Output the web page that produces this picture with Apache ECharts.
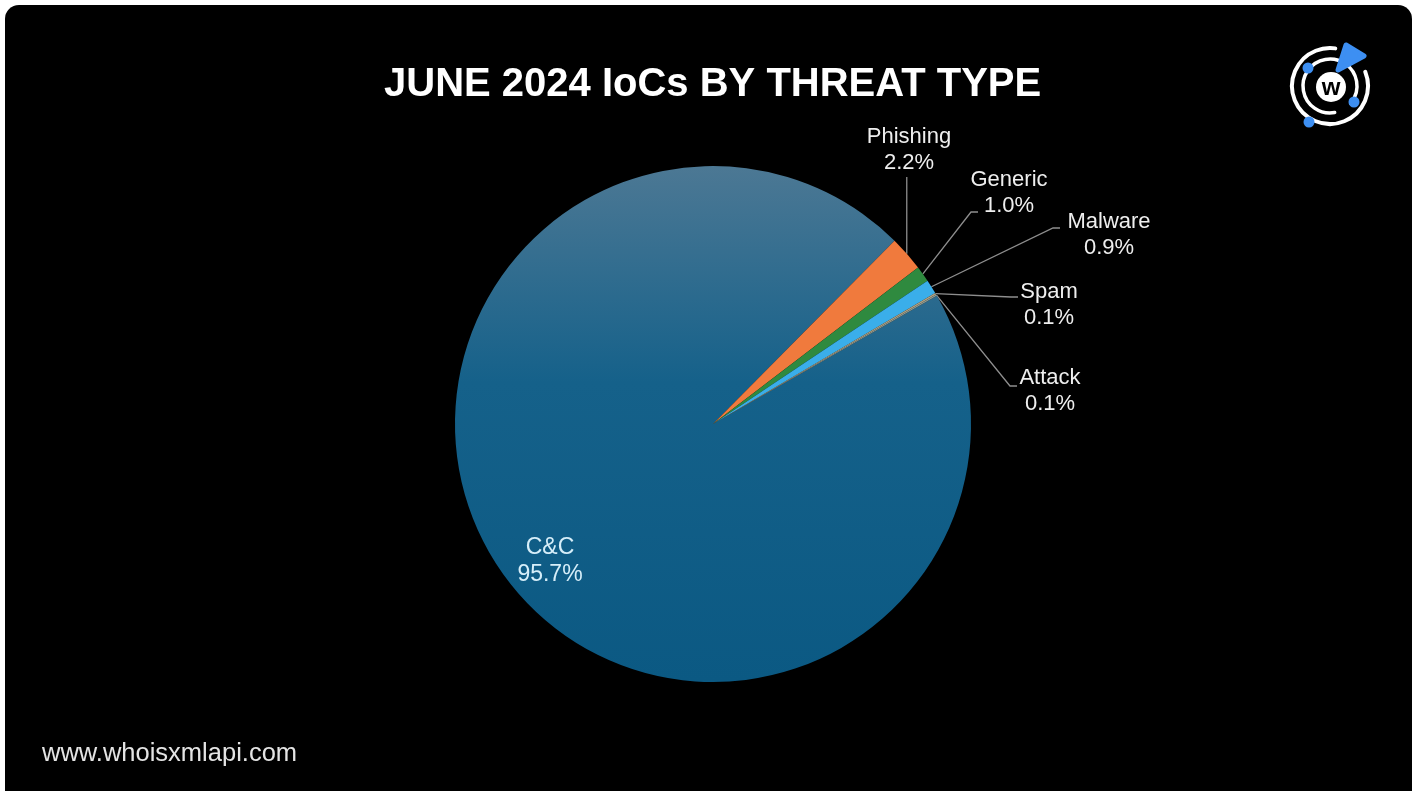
<!DOCTYPE html>
<html>
<head>
<meta charset="utf-8">
<title>June 2024 IoCs by Threat Type</title>
<script src="https://cdn.jsdelivr.net/npm/echarts@6/dist/echarts.min.js"></script>
<style>
  html, body { margin: 0; padding: 0; background: #ffffff; }
  #chart { width: 1417px; height: 791px; }
</style>
</head>
<body>
<div id="chart"></div>
<script>
// Share of indicators of compromise per threat type (percent)
const threatTypes = ['C&C', 'Phishing', 'Generic', 'Malware', 'Spam', 'Attack'];
const shares = [95.7, 2.2, 1.0, 0.9, 0.1, 0.1];
const sliceColors = [null, '#f07a3d', '#2f8a3f', '#3aaeea', '#b0a080', '#8a9a94'];

const FONT = '"Liberation Sans", Arial, Helvetica, sans-serif';
const PIE_CENTER = [713, 424];
const PIE_RADIUS = 258;

// Label block centres, relative to the pie centre
const labelSpots = {
  'C&C': [-163, 137],
  'Phishing': [196, -274],
  'Generic': [296, -231],
  'Malware': [396, -189],
  'Spam': [336, -119],
  'Attack': [337, -33]
};
// Where each leader line meets its label, relative to the label centre
const leaderEnds = {
  'Phishing': null,
  'Generic': [-31, 19],
  'Malware': [-49, -7],
  'Spam': [-31, -8],
  'Attack': [-33, -5]
};

const chart = echarts.init(document.getElementById('chart'), null, { renderer: 'canvas' });

const ccFill = {
  type: 'linear', x: 0, y: 0, x2: 0, y2: 1,
  colorStops: [
    { offset: 0, color: '#4c7894' },
    { offset: 0.42, color: '#15618a' },
    { offset: 1, color: '#0b5983' }
  ]
};

const pieData = threatTypes.map((name, i) => {
  const item = {
    name: name,
    value: shares[i],
    itemStyle: { color: i === 0 ? ccFill : sliceColors[i] }
  };
  if (i === 0) {
    item.label = { color: '#d6eef9', fontSize: 23, lineHeight: 27 };
    item.labelLine = { show: false };
  }
  return item;
});

// Logo: two broken rings, dots on them, a wedge and a "w" badge
const LX = 1330, LY = 86;
const deg = d => d * Math.PI / 180;
const logo = {
  type: 'group',
  children: [
    { type: 'arc', shape: { cx: LX, cy: LY, r: 38, startAngle: deg(-22), endAngle: deg(278), clockwise: true },
      style: { stroke: '#ffffff', lineWidth: 4, fill: null, lineCap: 'round' } },
    { type: 'arc', shape: { cx: LX, cy: LY, r: 27, startAngle: deg(80), endAngle: deg(400), clockwise: true },
      style: { stroke: '#ffffff', lineWidth: 3.5, fill: null, lineCap: 'round' } },
    { type: 'polygon', shape: { points: [[LX + 8, LY - 16], [LX + 16, LY - 41], [LX + 34, LY - 30]] },
      style: { fill: '#3d8ff2', stroke: '#3d8ff2', lineWidth: 5, lineJoin: 'round' } },
    { type: 'circle', shape: { cx: LX - 22, cy: LY - 18, r: 5.5 }, style: { fill: '#3d8ff2' } },
    { type: 'circle', shape: { cx: LX + 24, cy: LY + 16, r: 5.5 }, style: { fill: '#3d8ff2' } },
    { type: 'circle', shape: { cx: LX - 21, cy: LY + 36, r: 5.5 }, style: { fill: '#3d8ff2' } },
    { type: 'circle', shape: { cx: LX + 1, cy: LY + 1, r: 15 }, style: { fill: '#ffffff' } },
    { type: 'text', x: LX + 1, y: LY + 2,
      style: { text: 'w', fill: '#000000', font: 'bold 24px ' + FONT, textAlign: 'center', textVerticalAlign: 'middle' } }
  ]
};

const option = {
  backgroundColor: 'transparent',
  animation: false,
  title: {
    text: 'JUNE 2024 IoCs BY THREAT TYPE',
    left: 379,
    top: 60,
    textStyle: { color: '#ffffff', fontSize: 40, fontWeight: 'bold', fontFamily: FONT }
  },
  graphic: [
    { type: 'rect', z: -10, shape: { x: 5, y: 5, width: 1407, height: 800, r: 14 }, style: { fill: '#000000' } },
    { type: 'text', x: 42, y: 754,
      style: { text: 'www.whoisxmlapi.com', fill: '#e4e4e4', font: '25.5px ' + FONT, textVerticalAlign: 'middle' } },
    logo
  ],
  series: [{
    type: 'pie',
    center: PIE_CENTER,
    radius: PIE_RADIUS,
    startAngle: 29.8,
    clockwise: true,
    avoidLabelOverlap: false,
    itemStyle: { borderWidth: 0 },
    label: {
      show: true,
      position: 'outside',
      color: '#eeeeee',
      fontFamily: FONT,
      fontSize: 22,
      lineHeight: 26,
      align: 'center',
      formatter: p => p.name + '\n' + p.value.toFixed(1) + '%'
    },
    labelLine: {
      show: true,
      length: 20,
      length2: 10,
      smooth: false,
      lineStyle: { color: '#8e8e8e', width: 1.3 }
    },
    labelLayout: function (params) {
      const name = threatTypes[params.dataIndex];
      const spot = labelSpots[name];
      const lx = PIE_CENTER[0] + spot[0];
      const ly = PIE_CENTER[1] + spot[1];
      const out = { x: lx, y: ly, align: 'center', verticalAlign: 'middle' };
      const pts = params.labelLinePoints;
      if (pts && name !== 'C&C') {
        const edge = pts[0];
        const endOff = leaderEnds[name];
        if (endOff === null) {
          const bottom = ly + params.labelRect.height / 2 + 1;
          out.labelLinePoints = [edge, [edge[0], bottom], [edge[0], bottom]];
        } else {
          const ex = lx + endOff[0], ey = ly + endOff[1];
          out.labelLinePoints = [edge, [ex - 7, ey], [ex, ey]];
        }
      }
      return out;
    },
    data: pieData
  }]
};

chart.setOption(option);
</script>
</body>
</html>
